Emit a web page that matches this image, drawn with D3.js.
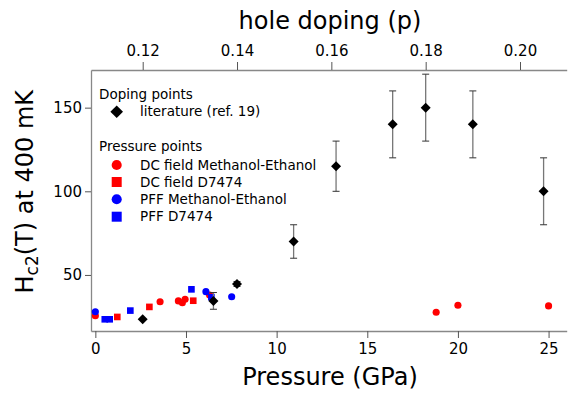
<!DOCTYPE html>
<html>
<head>
<meta charset="utf-8">
<script src="https://cdn.jsdelivr.net/npm/d3@7"></script>
<style>
body { margin: 0; background: #fff; }
text { font-family: "DejaVu Sans", sans-serif; fill: #000; }
</style>
</head>
<body>
<script>
// literature points, placed on the doping (top) axis
var litDoping = [0.12, 0.135, 0.14, 0.152, 0.161, 0.173, 0.18, 0.19, 0.205];
var litHc2 = [23.5, 34.5, 44.6, 70, 115, 140, 150, 140, 100];
var litErr = [0, 5, 1.5, 10, 15, 20, 20, 20, 20];

// pressure points
var dcMeP = [0, 3.57, 4.58, 4.8, 4.95, 6.3, 18.8, 20.0, 25.0];
var dcMeH = [25.6, 34, 34.5, 33.4, 35.5, 38, 27.7, 31.9, 31.5];
var dcD7P = [1.21, 2.98, 5.4];
var dcD7H = [24.9, 30.9, 34.6];
var pffMeP = [0, 6.1, 7.52];
var pffMeH = [28, 40, 37];
var pffD7P = [0.52, 0.79, 1.93, 5.3, 6.4];
var pffD7H = [23.5, 23.5, 28.7, 41.4, 36.7];

var pressureTicks = [0, 5, 10, 15, 20, 25];
var dopingTicks = [0.12, 0.14, 0.16, 0.18, 0.20];
var hc2Ticks = [50, 100, 150];

var W = 569, H = 393;
var m = {left: 91, right: 566.7, top: 70, bottom: 331};

var svg = d3.select('body').append('svg').attr('width', W).attr('height', H);

var x = d3.scaleLinear().domain([-0.24, 26]).range([m.left, m.right]);
var xp = d3.scaleLinear().domain([0.10904, 0.2099]).range([m.left, m.right]);
var y = d3.scaleLinear().domain([16.5, 172.5]).range([m.bottom, m.top]);

function styleAxis(g) {
    g.select('.domain').attr('stroke', '#888').attr('stroke-width', 1.3);
    g.selectAll('.tick line').attr('stroke', '#555');
    g.selectAll('.tick text').attr('font-size', 15).style('font-family', '"DejaVu Sans", sans-serif');
}

// bottom axis
svg.append('g')
    .attr('transform', 'translate(0,' + m.bottom + ')')
    .call(d3.axisBottom(x).tickValues(pressureTicks).tickSize(7).tickSizeOuter(0).tickPadding(5))
    .call(styleAxis);

// top axis
svg.append('g')
    .attr('transform', 'translate(0,' + m.top + ')')
    .call(d3.axisTop(xp).tickValues(dopingTicks).tickFormat(d3.format('.2f')).tickSize(8).tickSizeOuter(0).tickPadding(6))
    .call(styleAxis);

// left axis
svg.append('g')
    .attr('transform', 'translate(' + m.left + ',0)')
    .call(d3.axisLeft(y).tickValues(hc2Ticks).tickSize(6).tickSizeOuter(0).tickPadding(3))
    .call(styleAxis);

// axis titles
svg.append('text').attr('x', 330).attr('y', 385).attr('text-anchor', 'middle')
    .attr('font-size', 24).text('Pressure (GPa)');
svg.append('text').attr('x', 330).attr('y', 28.5).attr('text-anchor', 'middle')
    .attr('font-size', 24).text('hole doping (p)');
var yt = svg.append('text').attr('transform', 'translate(33,191.7) rotate(-90)')
    .attr('text-anchor', 'middle').attr('font-size', 24);
yt.append('tspan').text('H');
yt.append('tspan').attr('font-size', 17).attr('dy', 5).text('c2');
yt.append('tspan').attr('dy', -5).text('(T) at 400 mK');

var circle = d3.symbol().type(d3.symbolCircle);
var square = d3.symbol().type(d3.symbolSquare);

function drawPoints(px, py, sym, size, color) {
    svg.append('g').selectAll('path')
        .data(px)
        .enter().append('path')
        .attr('d', sym.size(size)())
        .attr('transform', function (d, i) {
            return 'translate(' + x(d) + ',' + y(py[i]) + ')';
        })
        .attr('fill', color);
}

drawPoints(dcMeP, dcMeH, circle, 40, '#ff0000');
drawPoints(dcD7P, dcD7H, square, 44, '#ff0000');
drawPoints(pffMeP, pffMeH, circle, 40, '#0000ff');
drawPoints(pffD7P, pffD7H, square, 44, '#0000ff');

// literature error bars + diamonds
var lit = svg.append('g');
lit.selectAll('line.bar')
    .data(litDoping)
    .enter().append('line')
    .attr('x1', function (d) { return xp(d); })
    .attr('x2', function (d) { return xp(d); })
    .attr('y1', function (d, i) { return y(litHc2[i] + litErr[i]); })
    .attr('y2', function (d, i) { return y(litHc2[i] - litErr[i]); })
    .attr('stroke', '#777').attr('stroke-width', 1.3);
[1, -1].forEach(function (s) {
    lit.selectAll('line.cap' + s)
        .data(litDoping.filter(function (d, i) { return litErr[i] > 0; }))
        .enter().append('line')
        .attr('x1', function (d) { return xp(d) - 3.5; })
        .attr('x2', function (d) { return xp(d) + 3.5; })
        .attr('y1', function (d) { var i = litDoping.indexOf(d); return y(litHc2[i] + s * litErr[i]); })
        .attr('y2', function (d) { var i = litDoping.indexOf(d); return y(litHc2[i] + s * litErr[i]); })
        .attr('stroke', '#333').attr('stroke-width', 1);
});
lit.selectAll('path')
    .data(litDoping)
    .enter().append('path')
    .attr('d', square.size(50)())
    .attr('transform', function (d, i) {
        return 'translate(' + xp(d) + ',' + y(litHc2[i]) + ') rotate(45)';
    })
    .attr('fill', '#000');

// legend
var legend = svg.append('g').attr('font-size', 13.5);
legend.append('text').attr('x', 99).attr('y', 94).attr('dy', '0.35em').text('Doping points');
legend.append('text').attr('x', 99).attr('y', 146.7).attr('dy', '0.35em').text('Pressure points');
var legendRows = [
    {label: 'literature (ref. 19)', sym: square, size: 80, color: '#000', rot: 45, yy: 111.7},
    {label: 'DC field Methanol-Ethanol', sym: circle, size: 80, color: '#ff0000', rot: 0, yy: 165},
    {label: 'DC field D7474', sym: square, size: 100, color: '#ff0000', rot: 0, yy: 182},
    {label: 'PFF Methanol-Ethanol', sym: circle, size: 80, color: '#0000ff', rot: 0, yy: 199.3},
    {label: 'PFF D7474', sym: square, size: 100, color: '#0000ff', rot: 0, yy: 216.7}
];
legendRows.forEach(function (r) {
    legend.append('path')
        .attr('d', r.sym.size(r.size)())
        .attr('transform', 'translate(116.7,' + r.yy + ') rotate(' + r.rot + ')')
        .attr('fill', r.color);
    legend.append('text').attr('x', 140).attr('y', r.yy).attr('dy', '0.35em').text(r.label);
});
</script>
</body>
</html>
